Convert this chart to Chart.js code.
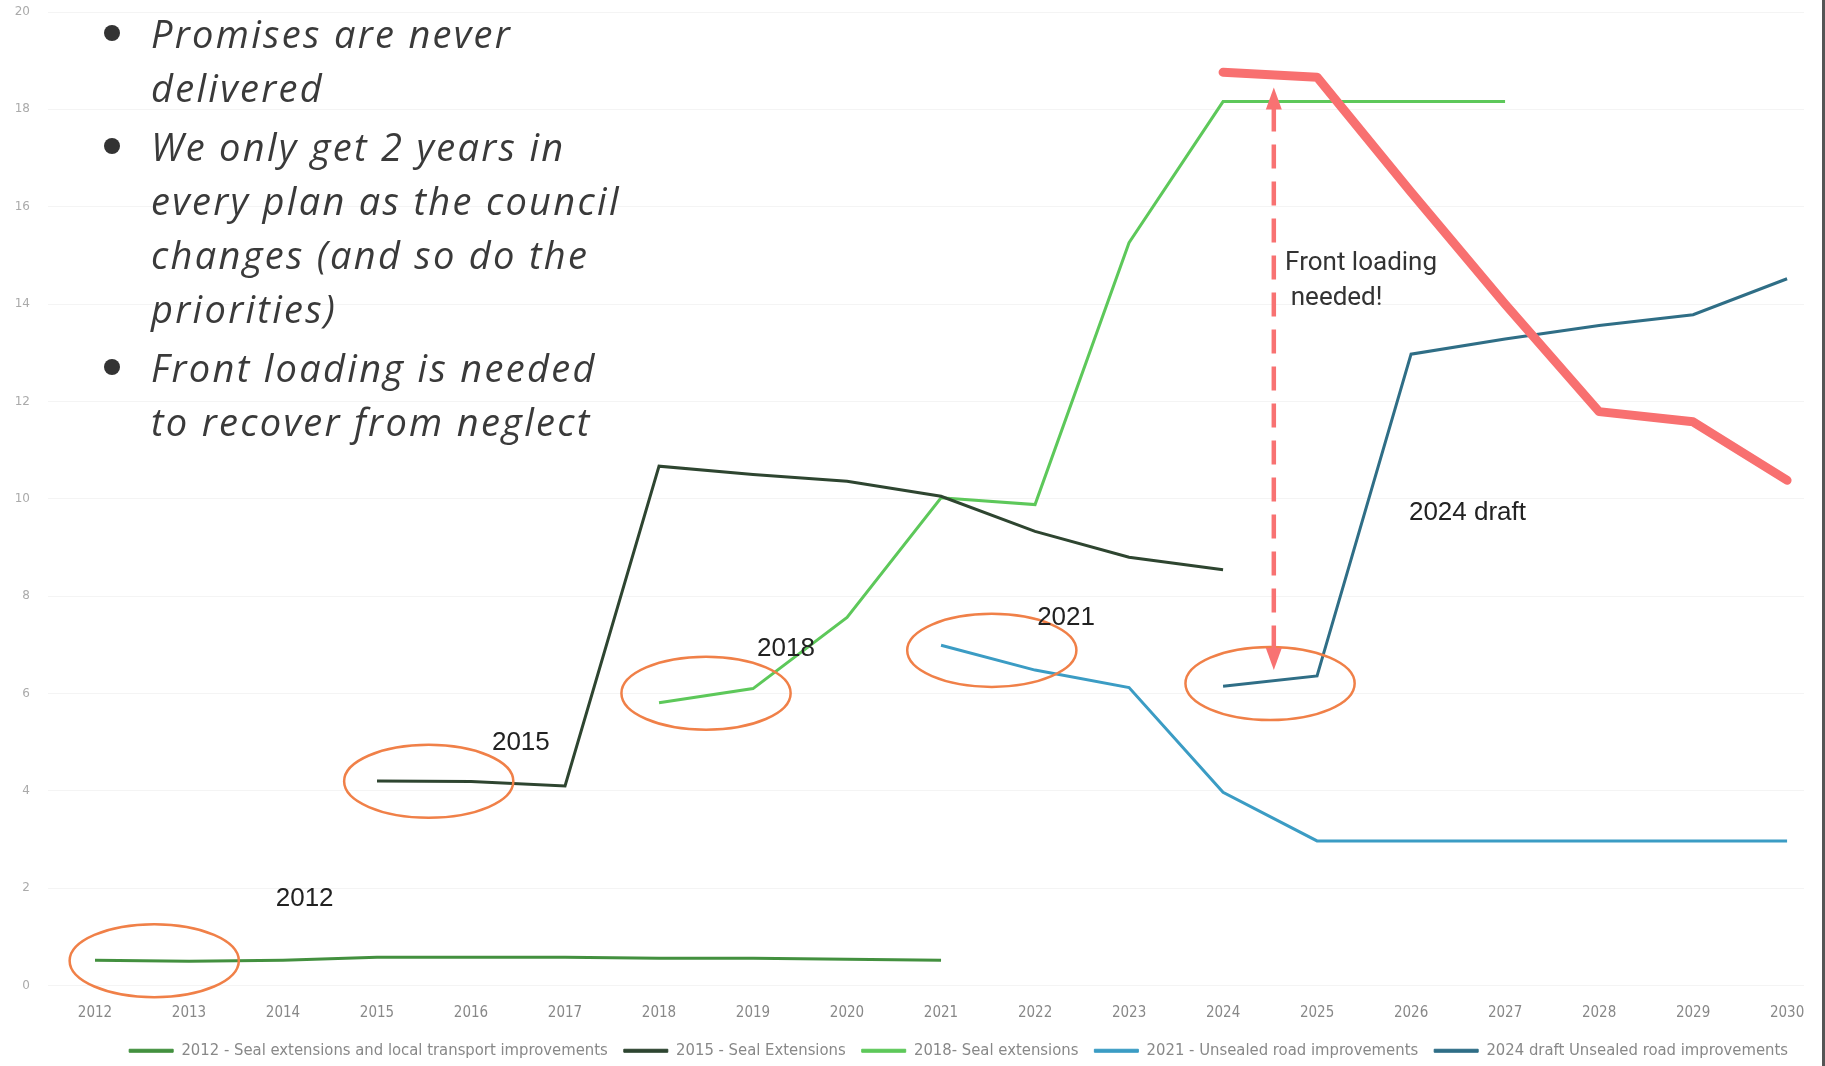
<!DOCTYPE html>
<html>
<head>
  <meta charset="utf-8">
  <title>Seal extension plans</title>
  <script src="https://cdn.jsdelivr.net/npm/chart.js@4.4.1/dist/chart.umd.min.js"></script>
  <style>
    html, body { margin: 0; padding: 0; background: #ffffff; }
    #wrap { position: relative; width: 1825px; height: 1066px; overflow: hidden; }
    #notes { position: absolute; left: 0; top: 6px; margin: 0; padding: 0; list-style: none;
             font-family: "Open Sans", Lato, sans-serif; font-style: italic; font-size: 38px;
             letter-spacing: 2.3px; line-height: 54px; color: #3a3a3a; white-space: nowrap; }
    #notes li { position: relative; padding-left: 151px; margin-bottom: 5px; }
    #notes li::before { content: ''; position: absolute; left: 104px; top: 19px; width: 16px; height: 16px;
                        border-radius: 50%; background: #333; }
    #edge { position: absolute; right: 0; top: 0; width: 3px; height: 100%; background: #555; }
  </style>
</head>
<body>
<div id="wrap">
  <canvas id="myChart" width="1825" height="1066"></canvas>
  <ul id="notes">
    <li>Promises are never<br>delivered</li>
    <li>We only get 2 years in<br>every plan as the council<br>changes (and so do the<br>priorities)</li>
    <li>Front loading is needed<br>to recover from neglect</li>
  </ul>
  <div id="edge"></div>
</div>
<script>
  // years on the x axis
  let years = [2012, 2013, 2014, 2015, 2016, 2017, 2018, 2019, 2020, 2021,
               2022, 2023, 2024, 2025, 2026, 2027, 2028, 2029, 2030];

  // one value per year, null where a plan has no figure
  let plan2012 = [0.52, 0.5, 0.52, 0.58, 0.58, 0.58, 0.56, 0.56, 0.54, 0.52,
                  null, null, null, null, null, null, null, null, null];
  let plan2015 = [null, null, null, 4.2, 4.19, 4.1, 10.67, 10.5, 10.36, 10.05,
                  9.33, 8.8, 8.54, null, null, null, null, null, null];
  let plan2018 = [null, null, null, null, null, null, 5.81, 6.1, 7.56, 10.02,
                  9.88, 15.26, 18.16, 18.16, 18.16, 18.16, null, null, null];
  let plan2021 = [null, null, null, null, null, null, null, null, null, 6.99,
                  6.48, 6.12, 3.97, 2.97, 2.97, 2.97, 2.97, 2.97, 2.97];
  let draft2024 = [null, null, null, null, null, null, null, null, null, null,
                   null, null, 6.15, 6.36, 12.97, 13.28, 13.56, 13.78, 14.52];
  let frontLoaded = [null, null, null, null, null, null, null, null, null, null,
                     null, null, 18.76, 18.66, 16.3, 14.0, 11.79, 11.58, 10.38];

  let seriesNames = ["2012 - Seal extensions and local transport improvements",
                     "2015 - Seal Extensions",
                     "2018- Seal extensions",
                     "2021 - Unsealed road improvements",
                     "2024 draft Unsealed road improvements"];
  let yTicks = [0, 2, 4, 6, 8, 10, 12, 14, 16, 18, 20];

  // annotation text (anchor in data units)
  let planLabels = ["2012", "2015", "2018", "2021", "2024 draft"];
  let planLabelAt = [[2014.23, 1.79], [2016.53, 4.98], [2019.35, 6.91], [2022.33, 7.56], [2026.6, 9.71]];
  let ringShift = [[0.13, 0], [0.05, 0], [0, 0.05], [0.04, 0.15], [0, -0.05]];

  function points(vals) {
    return years.map((yr, i) => ({ x: yr, y: vals[i] })).filter(p => p.y !== null);
  }

  let colors = ["#43903f", "#2e4530", "#5dc85a", "#3b9cc4", "#2f6e86"];
  let allSeries = [plan2012, plan2015, plan2018, plan2021, draft2024];

  let datasets = allSeries.map((vals, i) => ({
    label: seriesNames[i],
    data: points(vals),
    borderColor: colors[i],
    backgroundColor: colors[i],
    borderWidth: 3,
    pointRadius: 0,
    order: 1,
    clip: false
  }));
  datasets.push({
    label: "front",
    data: points(frontLoaded),
    borderColor: "#f87070",
    backgroundColor: "#f87070",
    borderWidth: 9,
    borderCapStyle: "round",
    borderJoinStyle: "round",
    pointRadius: 0,
    order: 0,
    clip: false
  });

  function firstTwo(vals) {
    let idx = vals.findIndex(v => v !== null);
    return [(years[idx] + years[idx + 1]) / 2, (vals[idx] + vals[idx + 1]) / 2];
  }

  let overlay = {
    id: "overlay",
    afterDatasetsDraw(chart) {
      let ctx = chart.ctx, x = chart.scales.x, y = chart.scales.y;
      ctx.save();

      // rings round the first two years of every plan
      ctx.strokeStyle = "#f08048";
      ctx.lineWidth = 2.5;
      allSeries.forEach((vals, i) => {
        let c = firstTwo(vals);
        let cx = x.getPixelForValue(c[0] + ringShift[i][0]), cy = y.getPixelForValue(c[1] + ringShift[i][1]);
        let rx = x.getPixelForValue(c[0] + 0.9) - x.getPixelForValue(c[0]);
        let ry = y.getPixelForValue(0) - y.getPixelForValue(0.75);
        ctx.beginPath();
        ctx.ellipse(cx, cy, rx, ry, 0, 0, Math.PI * 2);
        ctx.stroke();
      });

      // dashed double arrow
      let ax = x.getPixelForValue(2024.54);
      let top = y.getPixelForValue(18.45), bot = y.getPixelForValue(6.48);
      ctx.strokeStyle = "#f87272";
      ctx.fillStyle = "#f87272";
      ctx.lineWidth = 4.5;
      ctx.setLineDash([24, 13]);
      ctx.beginPath();
      ctx.moveTo(ax, top + 20);
      ctx.lineTo(ax, bot - 20);
      ctx.stroke();
      ctx.setLineDash([]);
      ctx.beginPath();
      ctx.moveTo(ax, top); ctx.lineTo(ax - 8, top + 22); ctx.lineTo(ax + 8, top + 22); ctx.closePath();
      ctx.fill();
      ctx.beginPath();
      ctx.moveTo(ax, bot); ctx.lineTo(ax - 8, bot - 22); ctx.lineTo(ax + 8, bot - 22); ctx.closePath();
      ctx.fill();

      // labels
      ctx.fillStyle = "#222";
      ctx.font = '26px "Liberation Sans", Arial, sans-serif';
      ctx.textAlign = "center";
      ctx.textBaseline = "middle";
      planLabels.forEach((t, i) => {
        ctx.fillText(t, x.getPixelForValue(planLabelAt[i][0]), y.getPixelForValue(planLabelAt[i][1]));
      });
      ctx.fillStyle = "#333";
      ctx.font = '26px Roboto, sans-serif';
      ctx.textAlign = "left";
      ctx.fillText("Front loading", x.getPixelForValue(2024.66), y.getPixelForValue(14.83));
      ctx.fillText("needed!", x.getPixelForValue(2024.72), y.getPixelForValue(14.11));
      ctx.restore();
    }
  };

  let narrow = '"Liberation Sans Narrow", "DejaVu Sans Condensed", sans-serif';

  let ctx = document.getElementById("myChart").getContext("2d");
  let myChart = new Chart(ctx, {
    type: "line",
    data: { datasets: datasets },
    options: {
      responsive: false,
      animation: false,
      layout: { padding: { top: 0, right: 21, left: 0, bottom: -3 } },
      plugins: {
        tooltip: { enabled: false },
        legend: {
          position: "bottom",
          align: "end",
          labels: {
            boxWidth: 44,
            boxHeight: 3,
            padding: 16,
            color: "#888",
            font: { family: narrow, size: 16.5 },
            filter: item => item.text !== "front",
            generateLabels: chart => Chart.defaults.plugins.legend.labels.generateLabels(chart)
              .map(l => Object.assign(l, { lineWidth: 1 }))
          }
        }
      },
      scales: {
        x: {
          type: "linear",
          min: 2011.5,
          max: 2030.18,
          afterBuildTicks: axis => { axis.ticks = years.map(v => ({ value: v })); },
          afterFit: axis => { axis.height = 41; },
          ticks: {
            color: "#888",
            padding: 11,
            font: { family: narrow, size: 15 },
            callback: v => String(v)
          },
          grid: { display: false },
          border: { display: false }
        },
        y: {
          min: 0,
          max: 20,
          afterBuildTicks: axis => { axis.ticks = yTicks.map(v => ({ value: v })); },
          afterFit: axis => { axis.width = 48; axis.paddingTop = 12; axis.paddingBottom = 8; },
          ticks: {
            color: "#aaa",
            padding: 18,
            font: { family: '"DejaVu Sans", sans-serif', size: 12 }
          },
          grid: { color: "#f4f4f4", drawTicks: false },
          border: { display: false }
        }
      }
    },
    plugins: [overlay]
  });
</script>
</body>
</html>
